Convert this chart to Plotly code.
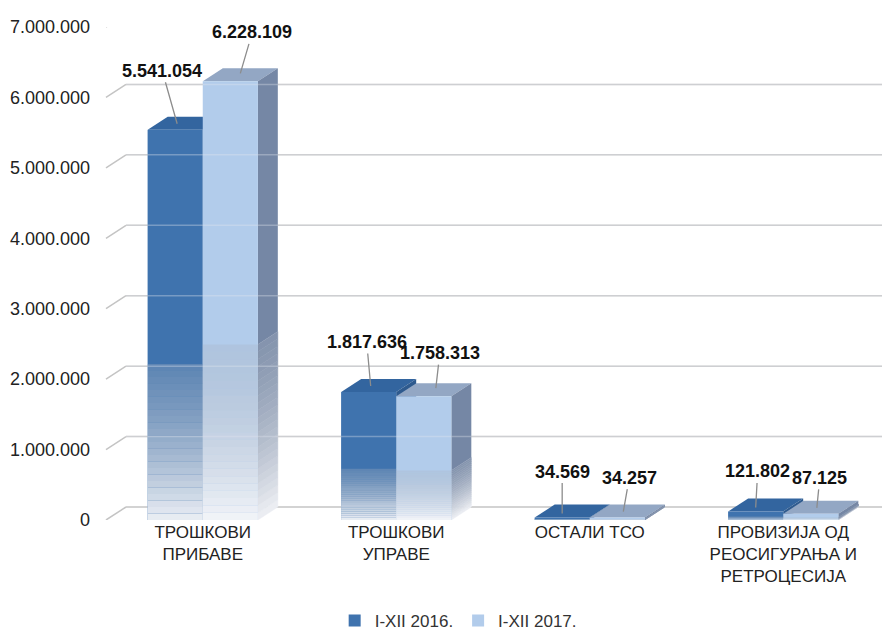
import plotly.graph_objects as go

categories = ["ТРОШКОВИ<br>ПРИБАВЕ", "ТРОШКОВИ<br>УПРАВЕ", "ОСТАЛИ ТСО",
              "ПРОВИЗИЈА ОД<br>РЕОСИГУРАЊА И<br>РЕТРОЦЕСИЈА"]
series_names = ["I-XII 2016.", "I-XII 2017."]
values_2016 = [5541054, 1817636, 34569, 121802]
values_2017 = [6228109, 1758313, 34257, 87125]
labels_2016 = ["5.541.054", "1.817.636", "34.569", "121.802"]
labels_2017 = ["6.228.109", "1.758.313", "34.257", "87.125"]
tick_vals = [0, 1000000, 2000000, 3000000, 4000000, 5000000, 6000000, 7000000]
tick_text = ["0", "1.000.000", "2.000.000", "3.000.000", "4.000.000",
             "5.000.000", "6.000.000", "7.000.000"]

# styling
FONT = "Liberation Sans, Arial, sans-serif"
FRONT = ["#3F73AE", "#B2CCEB"]
TOP = [(51, 101, 159), (147, 167, 196)]
SIDE = [(46, 90, 142), (117, 135, 165)]
YMAX = 7000000
W, H = 890, 631
ML, MR, MT, MB = 98, 18, 19, 119
PLOT_H = H - MT - MB
DX = 20            # depth, pixels to the right
DY_PX = 13         # depth, pixels up
DY = DY_PX * YMAX / PLOT_H
BAR_W = 0.285
HALF_PX = 27.5
NB = 24
FADE = 0.4


def fade_color(t):
    """overlay colour and alpha; t=0 at floor, t=1 at top of faded zone"""
    rgb = (round(244 - t * 74), round(245 - t * 65), round(248 - t * 53))
    return rgb, 0.93 - t * 0.63


def rgb_str(c):
    return f"rgb({c[0]},{c[1]},{c[2]})"


fig = go.Figure()
xs = list(range(len(categories)))
all_vals = [values_2016, values_2017]

for s, vals in enumerate(all_vals):
    fig.add_trace(go.Bar(x=xs, y=vals, name=series_names[s], offsetgroup=str(s),
                         marker=dict(color=FRONT[s], line=dict(width=0))))

# fading reflection towards the floor (lower part of each bar)
for s, vals in enumerate(all_vals):
    for k in range(NB):
        lo = FADE * k / NB
        hi = FADE * (k + 1) / NB
        (r, g, b), a = fade_color(k / (NB - 1))
        fig.add_trace(go.Bar(
            x=xs, y=[v * (hi - lo) for v in vals],
            base=[v * lo for v in vals], offsetgroup=str(s),
            marker=dict(color=f"rgba({r},{g},{b},{a:.3f})", line=dict(width=0)),
            showlegend=False, hoverinfo="skip"))

shapes = []
# back-wall gridlines with perspective connectors
for v in tick_vals:
    shapes.append(dict(type="line", xref="paper", yref="y", xsizemode="pixel", xanchor=0,
                       x0=DX, x1=W - ML, y0=v + DY, y1=v + DY, layer="below",
                       line=dict(color="#C4C4C4", width=1.5)))
    shapes.append(dict(type="line", xref="paper", yref="y", xsizemode="pixel", xanchor=0,
                       x0=0, x1=DX, y0=v, y1=v + DY, layer="below",
                       line=dict(color="#C4C4C4", width=1.5)))

# 3D top and side faces
for s, vals in enumerate(all_vals):
    off = -BAR_W / 2 if s == 0 else BAR_W / 2
    for i, v in enumerate(vals):
        cx = i + off
        top = (f"M {-HALF_PX},{v} L {HALF_PX},{v} L {HALF_PX + DX},{v + DY} "
               f"L {-HALF_PX + DX},{v + DY} Z")
        shapes.append(dict(type="path", xref="x", yref="y", xsizemode="pixel", xanchor=cx,
                           path=top, fillcolor=rgb_str(TOP[s]), line=dict(width=0),
                           layer="between"))
        # solid upper part of the side face
        side = (f"M {HALF_PX},{v} L {HALF_PX + DX},{v + DY} L {HALF_PX + DX},{FADE * v + DY} "
                f"L {HALF_PX},{FADE * v} Z")
        shapes.append(dict(type="path", xref="x", yref="y", xsizemode="pixel", xanchor=cx,
                           path=side, fillcolor=rgb_str(SIDE[s]), line=dict(width=0),
                           layer="between"))
        # faded lower part of the side face
        for k in range(NB):
            lo = v * FADE * k / NB
            hi = v * FADE * (k + 1) / NB
            oc, a = fade_color(k / (NB - 1))
            col = tuple(round(SIDE[s][j] * (1 - a) + oc[j] * a) for j in range(3))
            band = (f"M {HALF_PX},{hi} L {HALF_PX + DX},{hi + DY} L {HALF_PX + DX},{lo + DY} "
                    f"L {HALF_PX},{lo} Z")
            shapes.append(dict(type="path", xref="x", yref="y", xsizemode="pixel",
                               xanchor=cx, path=band, fillcolor=rgb_str(col),
                               line=dict(width=0.5, color=rgb_str(col)), layer="between"))

# faint gridlines seen through the translucent bars
for v in tick_vals[1:]:
    shapes.append(dict(type="line", xref="paper", yref="y", xsizemode="pixel", xanchor=0,
                       x0=DX, x1=W - ML, y0=v + DY, y1=v + DY, layer="above",
                       line=dict(color="rgba(225,230,238,0.35)", width=1.5)))

# data labels with leader lines: (ax, ay, xshift, yshift)
ann_offsets = [
    [(-15, -53, 2, 6), (-4, -44, 2, 6), (0, -42, 0, 4), (2, -36, 0, 4)],
    [(12, -41, 10, 8), (4, -35, 12, 8), (6, -34, 6, 6), (3, -30, 6, 6)],
]
annotations = []
for s, (vals, labs) in enumerate([(values_2016, labels_2016), (values_2017, labels_2017)]):
    off = -BAR_W / 2 if s == 0 else BAR_W / 2
    for i, (v, lab) in enumerate(zip(vals, labs)):
        ax, ay, xs_, ys_ = ann_offsets[s][i]
        annotations.append(dict(x=i + off, y=v, xref="x", yref="y", text=f"<b>{lab}</b>",
                                showarrow=True, arrowhead=0, arrowwidth=1.3,
                                arrowcolor="#8C8C8C", ax=ax, ay=ay, xshift=xs_, yshift=ys_,
                                font=dict(family=FONT, size=18, color="#111111")))

fig.update_layout(
    width=W, height=H, margin=dict(l=ML, r=MR, t=MT, b=MB, autoexpand=False),
    paper_bgcolor="white", plot_bgcolor="white",
    barmode="group", bargap=0.43, bargroupgap=0,
    shapes=shapes, annotations=annotations,
    font=dict(family=FONT, size=17, color="#222222"),
    legend=dict(orientation="h", x=0.455, xanchor="center", y=-0.205, yanchor="middle",
                font=dict(family=FONT, size=17, color="#333333"), traceorder="normal",
                itemwidth=30),
    xaxis=dict(tickvals=xs, ticktext=categories, range=[-0.5, 3.5], showgrid=False,
               zeroline=False, showline=False, ticks="", automargin=False,
               tickfont=dict(size=17, color="#222222")),
    yaxis=dict(range=[0, YMAX], tickvals=tick_vals, ticktext=tick_text, showgrid=False,
               zeroline=False, showline=False, ticks="", ticklabelstandoff=15,
               automargin=False, tickfont=dict(size=18, color="#222222")),
)

fig.write_html("out.html")
